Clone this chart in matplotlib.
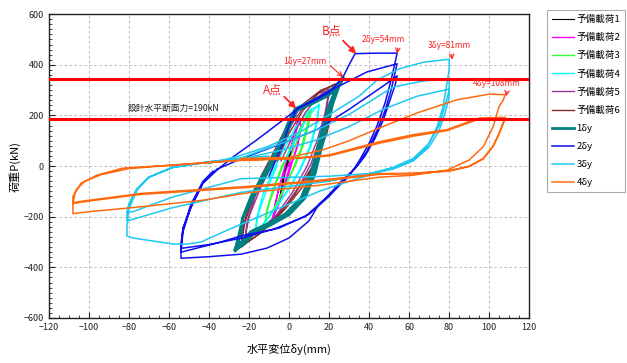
import matplotlib
matplotlib.use("Agg")
import matplotlib.pyplot as plt
from matplotlib.ticker import MultipleLocator

plt.rcParams['font.family'] = ['Noto Sans CJK JP', 'DejaVu Sans']

# ---------------- data (x: displacement mm, y: load kN) ----------------
pre1 = [(-1, 0), (0, 30), (1, 60), (0, 40), (-2, 0), (-3, -60), (-4, -120), (-5, -140),
        (-4, -100), (-3, -40), (-1, 0), (0, 40), (1, 55), (-1, 10), (-3, -70), (-5, -135)]
pre2 = [(0, 0), (2, 80), (4, 150), (5, 190), (6, 160), (4, 80), (1, 0), (-2, -80), (-5, -150),
        (-8, -204), (-7, -160), (-5, -80), (-2, 0), (1, 80), (4, 170), (5, 185), (6, 150),
        (4, 70), (0, -10), (-3, -90), (-6, -160), (-8, -200), (-7, -150), (-4, -60), (0, 10)]
pre3 = [(0, 20), (4, 100), (8, 180), (11, 225), (10, 170), (7, 80), (3, 0), (-2, -80),
        (-7, -160), (-12, -225), (-11, -170), (-8, -90), (-4, -10), (0, 60), (5, 140),
        (9, 200), (11, 220), (9, 160), (6, 70), (2, -10), (-3, -100), (-8, -180),
        (-12, -220), (-10, -150), (-6, -60), (-2, 20)]
pre4 = [(-2, 20), (3, 100), (9, 190), (15, 245), (14, 180), (11, 80), (6, -10), (0, -90),
        (-7, -170), (-13, -230), (-17, -265), (-16, -200), (-13, -110), (-8, -20), (-3, 60),
        (3, 150), (10, 220), (15, 240), (14, 170), (10, 70), (5, -20), (-1, -100),
        (-8, -180), (-14, -240), (-17, -260), (-15, -180), (-11, -90), (-6, 0)]
pre5 = [(-4, 20), (2, 120), (8, 210), (14, 270), (20, 305), (19, 230), (16, 120), (11, 10),
        (5, -80), (-2, -160), (-9, -220), (-16, -260), (-22, -290), (-21, -220), (-17, -120),
        (-12, -30), (-7, 50), (0, 150), (7, 230), (14, 285), (20, 300), (18, 210), (14, 100),
        (9, 0), (2, -100), (-6, -190), (-14, -250), (-22, -285), (-20, -200), (-15, -100),
        (-9, 0)]
pre6 = [(-6, 20), (0, 130), (7, 220), (15, 290), (23, 325), (22, 250), (19, 130), (13, 10),
        (6, -90), (-2, -170), (-10, -235), (-18, -285), (-24, -320), (-23, -240), (-19, -130),
        (-14, -40), (-8, 50), (-1, 160), (7, 245), (16, 300), (23, 320), (21, 230), (17, 110),
        (11, -10), (3, -110), (-6, -200), (-15, -270), (-24, -315), (-22, -220), (-17, -110),
        (-11, -10)]
d1 = [(-8, 12), (-3, 92), (0, 156), (4, 224), (12, 252), (19, 280), (24, 310), (27, 352),
      (24, 316), (21, 250), (17, 132), (12, -28), (7, -124), (-1, -188), (-10, -228),
      (-18, -256), (-24, -308), (-27, -336), (-24, -268), (-23, -204), (-18, -124),
      (-13, -56), (-8, 12), (-3, 92), (0, 150), (4, 220), (12, 248), (19, 276), (24, 306),
      (27, 346), (25, 316), (22, 250), (18, 130), (13, -30), (8, -126), (0, -192),
      (-9, -232), (-17, -262), (-23, -312), (-27, -332), (-25, -270), (-23, -200),
      (-19, -120), (-14, -50), (-9, 20), (-4, 96), (-1, 160), (3, 226), (11, 256),
      (18, 284), (23, 314), (27, 348), (24, 312), (20, 240), (16, 128), (11, -30), (6, -126),
      (-2, -190), (-11, -230), (-19, -258), (-25, -310), (-27, -330)]
d2 = [(-10, -40), (-3, 90), (0, 160), (4, 228), (12, 255), (20, 290), (27, 352), (30, 400),
      (33, 444), (44, 446), (54, 446),
      (53, 410), (51, 340), (48, 250), (44, 160), (40, 90), (35, 20), (30, -40), (22, -100),
      (15, -150), (10, -216), (0, -284), (-11, -324), (-24, -348), (-40, -358), (-54, -364),
      (-54, -308), (-53, -244), (-49, -164), (-43, -68), (-36, -16), (-28, 36), (-16, 104),
      (-5, 170), (5, 230), (22, 304), (39, 372), (54, 404),
      (53, 370), (51, 300), (48, 220), (44, 140), (39, 60), (34, 0), (28, -50), (20, -120),
      (10, -190), (-5, -245), (-24, -276), (-36, -304), (-54, -340),
      (-53, -260), (-49, -160), (-43, -64), (-36, -12), (-25, 25), (-10, 70), (14, 144),
      (30, 224), (47, 316), (54, 356),
      (53, 320), (50, 250), (47, 180), (43, 110), (38, 40), (33, -10), (26, -60), (18, -130),
      (8, -200), (-8, -250), (-24, -285), (-40, -310), (-54, -325),
      (-53, -250), (-49, -150), (-43, -60), (-38, -20)]
d3 = [(-40, 10), (-25, 40), (-11, 76), (5, 132), (22, 212), (35, 276), (44, 340), (55, 384),
      (67, 410), (80, 422),
      (80, 380), (79, 332), (77, 236), (74, 156), (69, 76), (62, 24), (52, -8), (45, -24),
      (30, -60), (15, -100), (0, -150), (-15, -200), (-30, -250), (-44, -300), (-51, -308),
      (-58, -308), (-68, -296), (-78, -284), (-81, -276),
      (-81, -240), (-80, -168), (-76, -96), (-70, -44), (-58, -4), (-41, 16), (-24, 32),
      (-3, 92), (14, 144), (30, 204), (52, 312), (67, 336), (80, 344),
      (80, 300), (78, 240), (75, 160), (70, 90), (62, 30), (52, -5), (40, -30), (20, -60),
      (0, -80), (-24, -104), (-58, -164), (-78, -210), (-81, -216),
      (-81, -190), (-80, -150), (-76, -90), (-70, -44), (-58, -6), (-41, 14), (-24, 28),
      (-3, 64), (14, 104), (30, 156), (47, 224), (64, 276), (80, 304),
      (80, 270), (78, 210), (75, 140), (70, 75), (62, 20), (52, -12), (40, -30), (20, -40),
      (-24, -50), (-58, -122), (-78, -180), (-81, -184),
      (-80, -150), (-76, -90), (-70, -44), (-58, -4), (-41, 16), (-24, 30), (-10, 40)]
d4 = [(-24, 30), (0, 34), (17, 64), (30, 100), (45, 150), (64, 210), (84, 262), (100, 284),
      (108, 282),
      (107, 260), (105, 236), (102, 156), (97, 76), (90, 24), (79, -16), (62, -36),
      (45, -44), (15, -76), (-20, -105), (-44, -136), (-78, -164), (-100, -180),
      (-108, -188),
      (-108, -150), (-107, -108), (-104, -68), (-96, -36), (-83, -8), (-58, 4), (-24, 24),
      (0, 30), (20, 44), (45, 96), (62, 124), (79, 144), (88, 170), (95, 190), (108, 192),
      (107, 170), (105, 130), (102, 80), (97, 30), (90, 0), (80, -18), (62, -28), (45, -30),
      (15, -56), (-20, -80), (-74, -108), (-100, -135), (-108, -144),
      (-108, -120), (-106, -90), (-102, -60), (-94, -34), (-80, -10), (-58, 4), (-24, 22),
      (0, 28), (20, 40), (45, 90), (62, 118), (79, 140), (95, 186), (108, 190),
      (107, 168), (105, 128), (102, 78), (97, 28), (90, -2), (80, -20), (62, -30), (45, -33),
      (15, -60), (-20, -84), (-74, -112), (-100, -138), (-108, -148)]

series = [pre1, pre2, pre3, pre4, pre5, pre6, d1, d2, d3, d4]
labels = ['予備載荷1', '予備載荷2', '予備載荷3', '予備載荷4', '予備載荷5', '予備載荷6',
          '1δy', '2δy', '3δy', '4δy']
colors = ['#000000', '#ff00ff', '#33ff33', '#00ffff', '#993399', '#8b2a2a',
          '#008080', '#1010ee', '#1ec8f0', '#ff6a10']
widths = [0.8, 1.0, 1.0, 1.0, 1.0, 1.0, 2.0, 1.1, 1.1, 1.1]

design_force = 185
upper_line = 345

# ---------------- figure ----------------
fig = plt.figure(figsize=(6.27, 3.63), dpi=100)
ax = fig.add_axes([0.078, 0.124, 0.766, 0.837])

handles = []
for data, lab, c, w in zip(series, labels, colors, widths):
    xs = [p[0] for p in data]
    ys = [p[1] for p in data]
    h, = ax.plot(xs, ys, color=c, lw=w, label=lab, solid_joinstyle='round')
    handles.append(h)

ax.axhline(upper_line, color='#ff0000', lw=2.2, zorder=5)
ax.axhline(design_force, color='#ff0000', lw=2.2, zorder=5)

ax.set_xlim(-120, 120)
ax.set_ylim(-600, 600)
ax.xaxis.set_major_locator(MultipleLocator(20))
ax.xaxis.set_minor_locator(MultipleLocator(5))
ax.yaxis.set_major_locator(MultipleLocator(200))
ax.yaxis.set_minor_locator(MultipleLocator(20))
ax.tick_params(which='both', direction='in', labelsize=6.5, colors='#222222')
ax.tick_params(which='major', length=4)
ax.tick_params(which='minor', length=2)
ax.grid(True, which='major', ls=(0, (3, 3)), color='#b0b0b0', lw=0.6)
for s in ax.spines.values():
    s.set_color('#222222')
    s.set_linewidth(1.0)

ax.set_xlabel('水平変位δy(mm)', fontsize=8, va='top')
ax.xaxis.set_label_coords(0.5, -0.085)
ax.set_ylabel('荷重P(kN)', fontsize=8)
ax.yaxis.set_label_coords(-0.058, 0.5)

red = '#ff2020'
ax.text(-57.5, 228, '設計水平断面力=190kN', fontsize=6.3, ha='center', va='center',
        color='#222222', zorder=6)
ax.annotate('A点', xy=(3.5, 228), xytext=(-8.5, 300), fontsize=8.5, color=red,
            ha='center', va='center', zorder=7,
            arrowprops=dict(arrowstyle='-|>', color=red, lw=1.3, mutation_scale=9,
                            relpos=(1.0, 0.2), shrinkA=0, shrinkB=0))
ax.annotate('B点', xy=(33.5, 444), xytext=(21, 532), fontsize=8.5, color=red,
            ha='center', va='center', zorder=7,
            arrowprops=dict(arrowstyle='-|>', color=red, lw=1.3, mutation_scale=9,
                            relpos=(0.9, 0.1), shrinkA=0, shrinkB=0))
small = [('1δy=27mm', (27, 352), (8, 412), (1.0, 0.4)),
         ('2δy=54mm', (54, 444), (47, 500), (0.85, 0.0)),
         ('3δy=81mm', (81.5, 420), (80, 476), (0.55, 0.0)),
         ('4δy=108mm', (108.5, 276), (104, 328), (0.72, 0.0))]
for txt, tip, pos, rp in small:
    ax.annotate(txt, xy=tip, xytext=pos, fontsize=6.0, color=red, ha='center',
                va='center', zorder=7,
                arrowprops=dict(arrowstyle='->', color=red, lw=0.8, mutation_scale=8,
                                relpos=rp, shrinkA=1, shrinkB=0))

leg = fig.legend(handles=handles, loc='upper left', bbox_to_anchor=(0.872, 0.972),
                 fontsize=6.9, frameon=True, fancybox=False, edgecolor='#999999',
                 handlelength=2.3, labelspacing=0.95, borderpad=0.5, handletextpad=0.3,
                 borderaxespad=0.0)
leg.get_frame().set_linewidth(0.8)

fig.savefig('out.png', dpi=100)
